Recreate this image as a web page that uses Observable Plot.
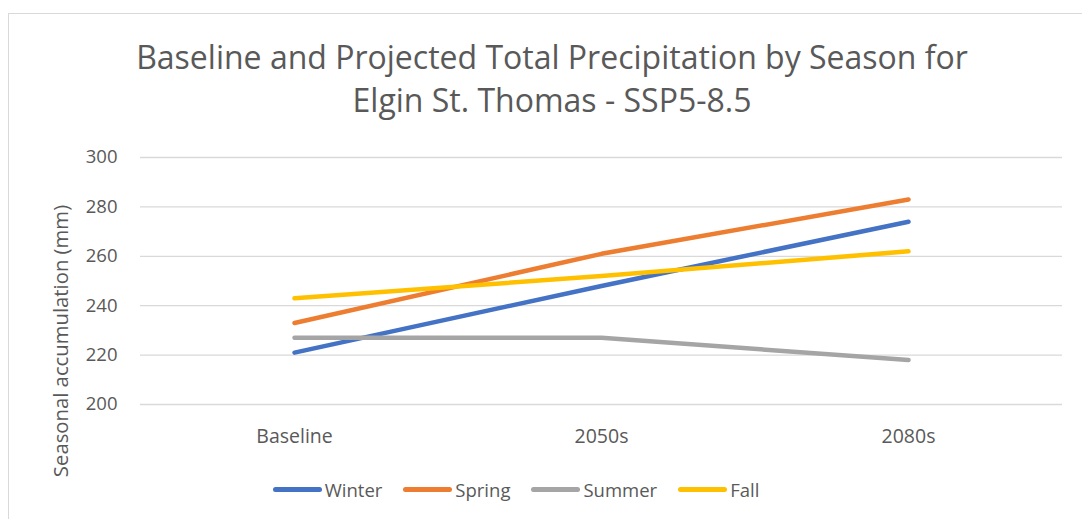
<!DOCTYPE html>
<html>
<head>
<meta charset="utf-8">
<script src="https://cdn.jsdelivr.net/npm/d3@7"></script>
<script src="https://cdn.jsdelivr.net/npm/@observablehq/plot@0.6"></script>
<style>
  html, body { margin: 0; padding: 0; background: #fff; }
  #wrap { position: relative; width: 1082px; height: 519px; overflow: hidden; font-family: "Open Sans", sans-serif; color: #595959; }
  #frame { position: absolute; left: 8px; top: 13px; width: 1200px; height: 600px; border: 1.5px solid #d9d9d9; box-sizing: border-box; }
  #title { position: absolute; left: 0; width: 1104px; top: 35px; text-align: center; font-size: 32px; line-height: 43px; color: #595959; }
  #ylab { position: absolute; left: 60px; top: 341px; transform: translate(-50%, -50%) rotate(-90deg); white-space: nowrap; font-size: 20.3px; color: #595959; }
  #legend { position: absolute; top: 477px; left: 0; width: 1032px; display: flex; justify-content: center; gap: 21px; font-size: 18.5px; color: #595959; }
  .item { display: flex; align-items: center; }
  .sw { width: 49px; height: 4.5px; border-radius: 3px; margin-right: 3px; }
  #chart { position: absolute; left: 0; top: 0; }
</style>
</head>
<body>
<div id="wrap">
  <div id="frame"></div>
  <div id="chart"></div>
  <div id="title">Baseline and Projected Total Precipitation by Season for<br>Elgin St. Thomas - SSP5-8.5</div>
  <div id="ylab">Seasonal accumulation (mm)</div>
  <div id="legend"></div>
</div>
<script>
const periods = ["Baseline", "2050s", "2080s"];
const seasons = ["Winter", "Spring", "Summer", "Fall"];
const colors = ["#4472C4", "#ED7D31", "#A5A5A5", "#FFC000"];
const winter = [221, 248, 274];
const spring = [233, 261, 283];
const summer = [227, 227, 218];
const fall = [243, 252, 262];
const yTicks = [200, 220, 240, 260, 280, 300];

const seriesValues = [winter, spring, summer, fall];
const data = [];
seasons.forEach((s, i) => periods.forEach((p, j) => data.push({season: s, period: p, value: seriesValues[i][j]})));

const chart = Plot.plot({
  width: 1082,
  height: 519,
  marginTop: 157,
  marginBottom: 115,
  marginLeft: 140,
  marginRight: 20,
  style: {fontFamily: "'Open Sans', sans-serif", fontSize: "18.5px", color: "#595959", background: "transparent"},
  x: {type: "point", domain: periods, padding: 0.5, label: null},
  y: {domain: [200, 300], label: null},
  color: {domain: seasons, range: colors},
  marks: [
    Plot.ruleY(yTicks, {stroke: "#d9d9d9", strokeWidth: 1.3}),
    Plot.axisY({ticks: yTicks, tickSize: 0, tickPadding: 23, label: null, fontSize: 18.5}),
    Plot.axisX({tickSize: 0, tickPadding: 25, label: null, fontSize: 19.5}),
    Plot.line(data, {x: "period", y: "value", z: "season", stroke: "season", strokeWidth: 4.5, strokeLinecap: "round", strokeLinejoin: "round"})
  ]
});
document.getElementById("chart").appendChild(chart);

const legend = document.getElementById("legend");
seasons.forEach((s, i) => {
  const item = document.createElement("div");
  item.className = "item";
  const sw = document.createElement("div");
  sw.className = "sw";
  sw.style.background = colors[i];
  const t = document.createElement("span");
  t.textContent = s;
  item.appendChild(sw);
  item.appendChild(t);
  legend.appendChild(item);
});
</script>
</body>
</html>
